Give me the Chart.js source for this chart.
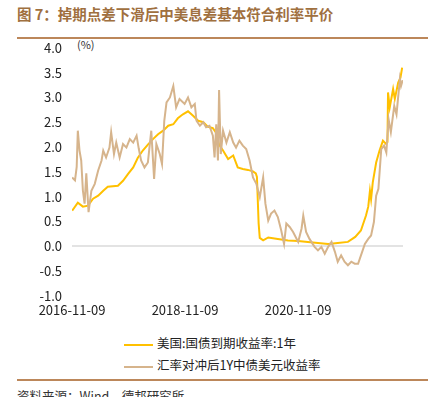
<!DOCTYPE html>
<html>
<head>
<meta charset="utf-8">
<script src="https://cdn.jsdelivr.net/npm/chart.js@4"></script>
<style>
  body { margin: 0; width: 440px; height: 397px; position: relative; overflow: hidden; background: #fff;
         font-family: "Noto Sans CJK SC", "Noto Sans", sans-serif; }
  .title { position: absolute; left: 17px; top: 3px; font-size: 14.5px; font-weight: bold; color: #A0703F; white-space: nowrap; }
  .rule { position: absolute; left: 17px; width: 411px; height: 2px; background: #BC875A; }
  .unit { position: absolute; left: 77px; top: 36px; font-size: 11px; color: #333; }
  .legend { position: absolute; left: 124px; font-size: 12.5px; color: #222; white-space: nowrap; }
  .legend i { display: inline-block; width: 29px; height: 2px; vertical-align: middle; margin-right: 4px; }
  .source { position: absolute; left: 17px; top: 386px; font-size: 12.5px; color: #333; white-space: nowrap; }
  #wrap { position: absolute; left: 0; top: 30px; width: 440px; height: 296px; }
</style>
</head>
<body>
<div class="title">图 7：掉期点差下滑后中美息差基本符合利率平价</div>
<div class="rule" style="top:37px"></div>
<div class="unit">(%)</div>
<div id="wrap"><canvas id="chart"></canvas></div>
<div class="legend" style="top:333px"><i style="background:#FFC000"></i>美国:国债到期收益率:1年</div>
<div class="legend" style="top:355px"><i style="background:#D6B48C"></i>汇率对冲后1Y中债美元收益率</div>
<div class="rule" style="top:379px"></div>
<div class="source">资料来源：Wind，德邦研究所</div>

<script>
// Dates as decimal years
const tickYears = [2016.857, 2018.857, 2020.858];
const tickLabels = ['2016-11-09', '2018-11-09', '2020-11-09'];

// 美国:国债到期收益率:1年
const usYears = [2016.86, 2016.96, 2017.05, 2017.14, 2017.23, 2017.32, 2017.41, 2017.49, 2017.67, 2017.76,
  2017.85, 2017.94, 2018.02, 2018.11, 2018.20, 2018.29, 2018.38, 2018.47, 2018.56, 2018.65,
  2018.73, 2018.82, 2018.91, 2019.00, 2019.09, 2019.18, 2019.26, 2019.35, 2019.40, 2019.46,
  2019.53, 2019.62, 2019.71, 2019.79, 2019.88, 2019.97, 2020.06, 2020.11, 2020.13, 2020.16,
  2020.18, 2020.24, 2020.33, 2020.50, 2020.68, 2020.86, 2021.03, 2021.21, 2021.39, 2021.56,
  2021.74, 2021.87, 2021.97, 2022.06, 2022.10, 2022.13, 2022.15, 2022.18, 2022.24, 2022.30,
  2022.36, 2022.41, 2022.44, 2022.45, 2022.48, 2022.54, 2022.57, 2022.63, 2022.67, 2022.70];
const usYield = [0.72, 0.88, 0.80, 0.82, 0.96, 1.02, 1.12, 1.20, 1.22, 1.32,
  1.46, 1.59, 1.78, 1.93, 2.05, 2.16, 2.26, 2.33, 2.43, 2.46,
  2.58, 2.66, 2.72, 2.63, 2.53, 2.50, 2.41, 2.38, 2.30, 2.05,
  1.93, 1.76, 1.83, 1.59, 1.56, 1.54, 1.51, 1.47, 1.40, 0.46,
  0.17, 0.12, 0.18, 0.15, 0.12, 0.11, 0.09, 0.07, 0.05, 0.07,
  0.09, 0.19, 0.32, 0.62, 0.80, 1.12, 0.95, 1.29, 1.69, 1.93,
  2.13, 2.07, 2.10, 3.10, 2.80, 3.17, 2.97, 3.30, 3.40, 3.60];

// 汇率对冲后1Y中债美元收益率
const hedgedYears = [2016.86, 2016.91, 2016.94, 2016.96, 2016.99, 2017.02, 2017.05, 2017.08, 2017.11, 2017.15,
  2017.20, 2017.26, 2017.32, 2017.38, 2017.41, 2017.46, 2017.52, 2017.55, 2017.60, 2017.64,
  2017.70, 2017.76, 2017.82, 2017.88, 2017.94, 2018.00, 2018.04, 2018.08, 2018.14, 2018.20,
  2018.26, 2018.31, 2018.35, 2018.41, 2018.45, 2018.49, 2018.53, 2018.59, 2018.65, 2018.70,
  2018.76, 2018.85, 2018.91, 2018.97, 2019.03, 2019.06, 2019.12, 2019.18, 2019.23, 2019.29,
  2019.35, 2019.38, 2019.41, 2019.44, 2019.46, 2019.49, 2019.53, 2019.59, 2019.65, 2019.71,
  2019.76, 2019.82, 2019.88, 2019.94, 2020.00, 2020.06, 2020.12, 2020.18, 2020.24, 2020.28,
  2020.33, 2020.38, 2020.44, 2020.50, 2020.56, 2020.61, 2020.65, 2020.71, 2020.77, 2020.86,
  2020.92, 2020.95, 2021.00, 2021.06, 2021.15, 2021.21, 2021.27, 2021.33, 2021.39, 2021.45,
  2021.51, 2021.56, 2021.62, 2021.68, 2021.74, 2021.80, 2021.86, 2021.92, 2021.98, 2022.04,
  2022.10, 2022.15, 2022.20, 2022.24, 2022.28, 2022.33, 2022.38, 2022.42, 2022.46, 2022.50,
  2022.56, 2022.60, 2022.66, 2022.68, 2022.71];
const hedgedYield = [1.39, 1.33, 1.60, 2.33, 1.93, 1.73, 1.12, 0.86, 1.47, 0.69,
  1.12, 1.26, 1.53, 1.73, 1.93, 1.79, 1.99, 2.30, 1.86, 2.09,
  1.79, 2.06, 1.99, 2.16, 2.09, 2.23, 1.96, 1.73, 1.59, 1.69,
  2.33, 1.36, 2.06, 1.86, 1.66, 2.53, 2.90, 3.00, 3.23, 2.80,
  2.97, 2.87, 3.00, 2.80, 2.87, 2.53, 2.43, 2.50, 2.40, 2.43,
  2.23, 1.79, 2.46, 1.73, 3.15, 1.86, 2.33, 2.09, 2.30, 2.09,
  1.99, 2.13, 2.03, 1.96, 1.73, 1.39, 1.26, 0.99, 1.39, 0.86,
  0.52, 0.66, 0.72, 0.59, 0.32, 0.05, 0.46, 0.39, 0.29, 0.09,
  0.36, 0.62, 0.29, 0.15, -0.01, -0.08, -0.01, -0.15, -0.01, 0.09,
  -0.11, -0.31, -0.18, -0.31, -0.38, -0.31, -0.35, -0.35, -0.15, 0.05,
  0.15, 0.22, 0.49, 1.02, 1.16, 1.96, 2.03, 1.89, 2.56, 2.30,
  2.83, 2.66, 3.37, 3.23, 3.35];

const toPoints = (xs, ys) => xs.map((x, i) => ({ x: x, y: ys[i] }));

const tickFont = { family: '"Noto Sans CJK SC", sans-serif', size: 13 };

new Chart(document.getElementById('chart'), {
  type: 'line',
  data: {
    datasets: [
      { label: '汇率对冲后1Y中债美元收益率', data: toPoints(hedgedYears, hedgedYield),
        borderColor: '#D6B48C', borderWidth: 2, pointRadius: 0, tension: 0 },
      { label: '美国:国债到期收益率:1年', data: toPoints(usYears, usYield),
        borderColor: '#FFC000', borderWidth: 2, pointRadius: 0, tension: 0 }
    ]
  },
  options: {
    responsive: true,
    maintainAspectRatio: false,
    animation: false,
    layout: { padding: { top: 17, right: 37, left: 0, bottom: 0 } },
    plugins: { legend: { display: false }, tooltip: { enabled: false } },
    scales: {
      x: {
        type: 'linear',
        min: 2016.857,
        max: 2022.715,
        afterBuildTicks: s => { s.ticks = tickYears.map(v => ({ value: v })); },
        afterFit: s => { s.height = 30; },
        ticks: {
          autoSkip: false, maxRotation: 0, padding: 6, color: '#222', font: tickFont,
          callback: (v, i) => tickLabels[i]
        },
        grid: { display: false, drawTicks: false },
        border: { display: false }
      },
      y: {
        min: -1, max: 4,
        afterFit: s => { s.width = 72; },
        ticks: { stepSize: 0.5, padding: 10, color: '#222', font: tickFont,
          callback: v => v.toFixed(1) },
        grid: {
          drawTicks: false,
          lineWidth: 2,
          color: ctx => (ctx.tick && ctx.tick.value === 0) ? '#E3E3E3' : 'rgba(0,0,0,0)'
        },
        border: { display: false }
      }
    }
  }
});
</script>
</body>
</html>
